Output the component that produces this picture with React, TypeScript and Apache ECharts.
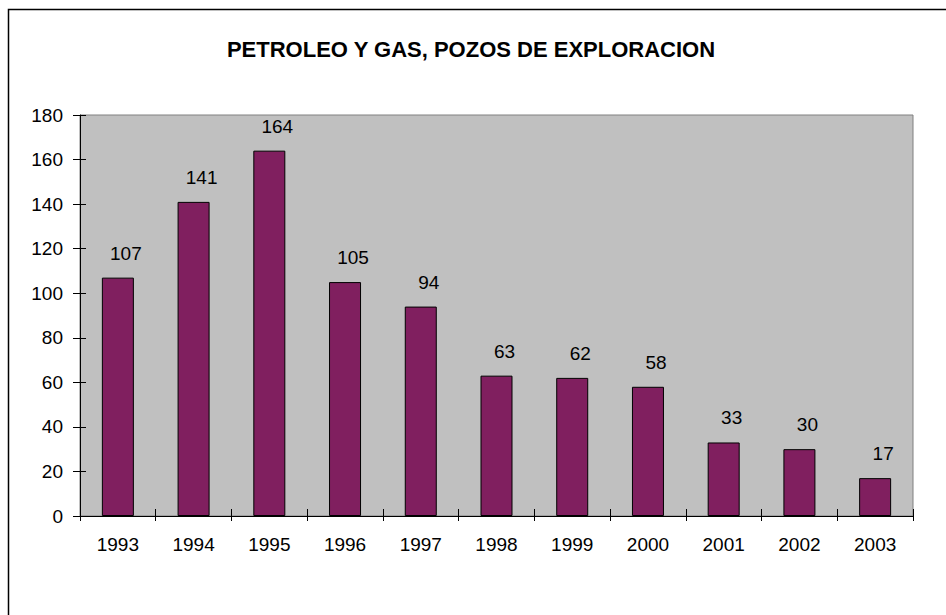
import React, { useEffect, useRef } from "react";
import * as echarts from "echarts";

const titleText = "PETROLEO Y GAS, POZOS DE EXPLORACION";
const years = ["1993", "1994", "1995", "1996", "1997", "1998", "1999", "2000", "2001", "2002", "2003"];
const wells = [107, 141, 164, 105, 94, 63, 62, 58, 33, 30, 17];

const FONT = "'Liberation Sans', Arial, sans-serif";

export default function App() {
  const ref = useRef<HTMLDivElement>(null);
  useEffect(() => {
    if (!ref.current) return;
    const chart = echarts.init(ref.current, null, { renderer: "svg" });
    const yCommon = { type: "value" as const, min: 0, max: 180, interval: 20, splitLine: { show: false } };
    chart.setOption({
      animation: false,
      backgroundColor: "#ffffff",
      textStyle: { fontFamily: FONT },
      title: {
        text: titleText,
        left: 466,
        textAlign: "center",
        top: 33,
        textStyle: { fontFamily: FONT, fontSize: 22, fontWeight: "bold", color: "#000" },
      },
      graphic: [
        {
          type: "rect",
          shape: { x: 8.5, y: 9.5, width: 960, height: 640 },
          style: { fill: "none", stroke: "#000", lineWidth: 1.5 },
          silent: true,
        },
      ],
      grid: {
        left: 80,
        right: 33,
        top: 115,
        bottom: 99,
        show: true,
        backgroundColor: "#C0C0C0",
        borderColor: "#808080",
        borderWidth: 1,
      },
      xAxis: [
        {
          type: "category",
          data: years,
          position: "bottom",
          axisLine: { show: true, lineStyle: { color: "#000", width: 1 } },
          axisTick: { show: true, inside: false, length: 5, lineStyle: { color: "#000" } },
          axisLabel: { color: "#000", fontSize: 19, fontFamily: FONT, margin: 19 },
        },
        {
          type: "category",
          data: years,
          position: "bottom",
          axisLine: { show: false },
          axisTick: { show: true, inside: true, length: 7, lineStyle: { color: "#000" } },
          axisLabel: { show: false },
        },
      ],
      yAxis: [
        {
          ...yCommon,
          position: "left",
          axisLine: { show: true, lineStyle: { color: "#000", width: 1 } },
          axisTick: { show: true, inside: false, length: 7, lineStyle: { color: "#000" } },
          axisLabel: { color: "#000", fontSize: 19, fontFamily: FONT, margin: 17 },
        },
        {
          ...yCommon,
          position: "left",
          axisLine: { show: false },
          axisTick: { show: true, inside: true, length: 6, lineStyle: { color: "#000" } },
          axisLabel: { show: false },
        },
      ],
      series: [
        {
          type: "bar",
          data: wells,
          xAxisIndex: 0,
          yAxisIndex: 0,
          barWidth: 32,
          itemStyle: { color: "#801F5F", borderColor: "#000", borderWidth: 1 },
          label: {
            show: true,
            position: "top",
            distance: 15,
            offset: [8, 0],
            color: "#000",
            fontSize: 19,
            fontFamily: FONT,
          },
        },
      ],
    });
    return () => chart.dispose();
  }, []);
  return (
    <div
      ref={ref}
      style={{ position: "fixed", left: 0, top: 0, width: 946, height: 615 }}
    />
  );
}
